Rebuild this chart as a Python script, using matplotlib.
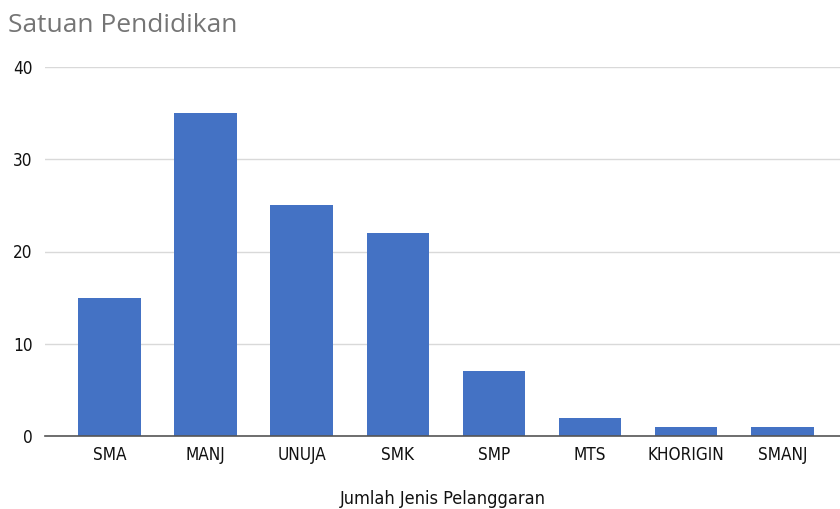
import matplotlib.pyplot as plt

categories = ['SMA', 'MANJ', 'UNUJA', 'SMK', 'SMP', 'MTS', 'KHORIGIN', 'SMANJ']
values = [15, 35, 25, 22, 7, 2, 1, 1]
yticks = [0, 10, 20, 30, 40]

plt.rcParams['font.family'] = ['DejaVu Sans']
plt.rcParams['font.stretch'] = 'condensed'

fig = plt.figure(figsize=(8.4, 5.09), dpi=100)
ax = fig.add_axes([45 / 840, 73 / 509, 1 - 45 / 840, 369 / 509])

ax.bar(range(len(categories)), values, width=0.65, color='#4472C4', zorder=3)

ax.set_xlim(-0.67, 7.6)
ax.set_ylim(0, 40)
ax.set_yticks(yticks)
ax.set_xticks(range(len(categories)))
ax.set_xticklabels(categories)
ax.tick_params(axis='both', length=0, labelsize=12.3, colors='#111111')
ax.tick_params(axis='x', pad=7)
ax.tick_params(axis='y', pad=9)
ax.grid(axis='y', color='#d9d9d9', linewidth=1, zorder=0)
for s in ['top', 'right', 'left']:
    ax.spines[s].set_visible(False)
ax.spines['bottom'].set_color('#555555')
ax.spines['bottom'].set_linewidth(1.2)
ax.spines['bottom'].set_zorder(4)

ax.set_xlabel('Jumlah Jenis Pelanggaran', fontsize=13, color='#111111', labelpad=19)

fig.text(8 / 840, 1 - 25 / 509, 'Satuan Pendidikan', fontsize=19, color='#757575',
         va='center', ha='left', family=['Open Sans', 'DejaVu Sans'], stretch='normal')

fig.savefig('out.png', dpi=100)
